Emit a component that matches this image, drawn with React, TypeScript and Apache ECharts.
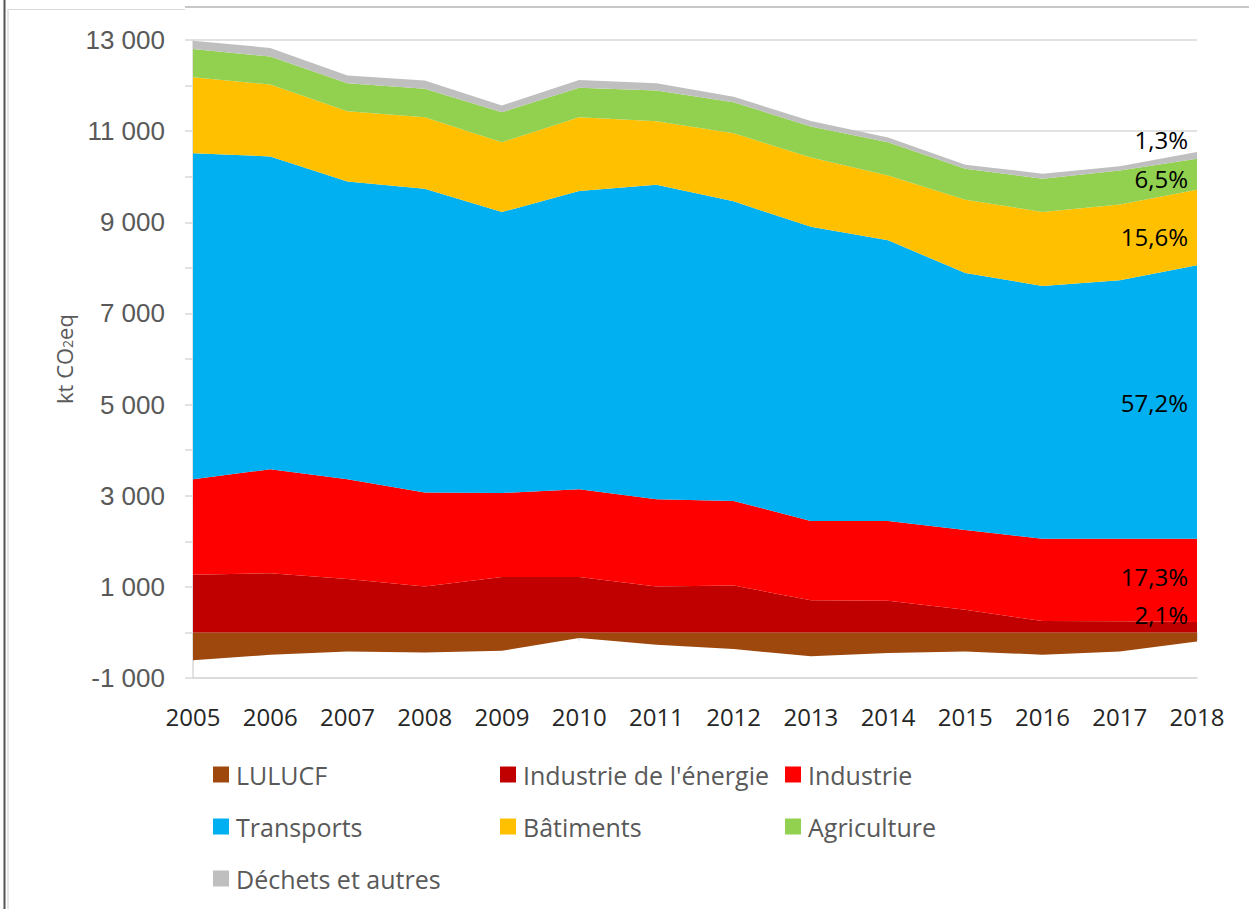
import React, { useEffect, useRef } from 'react';
import * as echarts from 'echarts';

const years = ['2005', '2006', '2007', '2008', '2009', '2010', '2011', '2012', '2013', '2014', '2015', '2016', '2017', '2018'];

const lulucf = [-613, -489, -416, -440, -401, -123, -270, -365, -525, -452, -416, -489, -416, -197];
const energie = [1264, 1301, 1170, 1008, 1214, 1214, 1008, 1030, 705, 695, 497, 250, 245, 230];
const industrie = [2097, 2279, 2191, 2060, 1846, 1928, 1915, 1856, 1742, 1752, 1753, 1803, 1808, 1823];
const transports = [7156, 6865, 6536, 6669, 6165, 6543, 6901, 6573, 6453, 6157, 5638, 5550, 5675, 6004];
const batiments = [1665, 1577, 1540, 1569, 1533, 1621, 1394, 1496, 1520, 1424, 1608, 1622, 1665, 1656];
const agriculture = [622, 614, 614, 622, 657, 644, 673, 680, 682, 730, 679, 731, 745, 681];
const dechets = [182, 190, 168, 181, 147, 174, 160, 120, 118, 105, 90, 110, 90, 146];

// shares in 2018 (labels shown at the right end), for series 1..6
const shares2018 = ['2,1%', '17,3%', '57,2%', '15,6%', '6,5%', '1,3%'];

const yLabelValues = [-1000, 1000, 3000, 5000, 7000, 9000, 11000, 13000];

const seriesDefs = [
  { name: 'LULUCF', data: lulucf, color: '#9E480E' },
  { name: "Industrie de l'énergie", data: energie, color: '#C00000' },
  { name: 'Industrie', data: industrie, color: '#FF0000' },
  { name: 'Transports', data: transports, color: '#00B0F0' },
  { name: 'Bâtiments', data: batiments, color: '#FFC000' },
  { name: 'Agriculture', data: agriculture, color: '#92D050' },
  { name: 'Déchets et autres', data: dechets, color: '#BFBFBF' },
];

const fmtThousands = (v: number) => {
  const s = Math.abs(v).toString().replace(/\B(?=(\d{3})+(?!\d))/g, ' ');
  return (v < 0 ? '-' : '') + s;
};

export default function App() {
  const ref = useRef<HTMLDivElement>(null);

  useEffect(() => {
    document.body.style.margin = '0';
    const chart = echarts.init(ref.current!, null, { renderer: 'svg' });
    const last = years.length - 1;
    const labelOffsets = [0, -13, -4, 0, 9, 4, -13];
    let cum = 0;
    const series: any[] = seriesDefs.map((s, i) => {
      const v = s.data[last];
      const base = v >= 0 ? cum : 0;
      if (v >= 0) cum += v;
      const item: any = {
        name: s.name,
        type: 'line',
        stack: 'total',
        data: s.data,
        symbol: 'none',
        showSymbol: false,
        lineStyle: { width: 0, color: s.color },
        areaStyle: { color: s.color, opacity: 1 },
        itemStyle: { color: s.color },
        emphasis: { disabled: true },
        silent: true,
      };
      if (i > 0) {
        const isTop = i === seriesDefs.length - 1;
        item.markPoint = {
          symbol: 'circle',
          symbolSize: 0,
          silent: true,
          itemStyle: { color: 'transparent' },
          label: {
            show: true,
            position: 'left',
            distance: 9,
            formatter: shares2018[i - 1],
            color: '#000',
            fontFamily: 'Open Sans',
            fontSize: 24,
            offset: [0, labelOffsets[i]],
          },
          data: [{ coord: [years[last], isTop ? base + v : base + v / 2] }],
        };
      }
      return item;
    });

    const legendPos = [
      { left: 213, top: 762 },
      { left: 500, top: 762 },
      { left: 785, top: 762 },
      { left: 213, top: 814 },
      { left: 500, top: 814 },
      { left: 785, top: 814 },
      { left: 213, top: 866 },
    ];
    const legends = seriesDefs.map((s, i) => ({
      data: [s.name],
      left: legendPos[i].left,
      top: legendPos[i].top,
      padding: 0,
      icon: 'rect',
      itemWidth: 16,
      itemHeight: 16,
      selectedMode: false,
      textStyle: { fontFamily: 'Open Sans', fontSize: 25, color: '#595959', padding: [0, 0, 0, 2] },
    }));

    chart.setOption({
      animation: false,
      backgroundColor: '#ffffff',
      grid: { left: 193, right: 52, top: 40, bottom: 231, containLabel: false },
      legend: legends,
      xAxis: [
        {
          type: 'category',
          data: years,
          boundaryGap: false,
          position: 'bottom',
          axisLine: { show: true, onZero: false, lineStyle: { color: '#d9d9d9', width: 1.5 } },
          axisTick: { show: false },
          axisLabel: { interval: 0, fontFamily: 'Open Sans', fontSize: 24, color: '#262626', margin: 26 },
          splitLine: { show: false },
        },
        {
          type: 'category',
          data: years,
          boundaryGap: false,
          position: 'bottom',
          axisLine: { show: true, onZero: true, lineStyle: { color: '#d9d9d9', width: 1.5 } },
          axisTick: { show: true, length: 8, interval: 0, lineStyle: { color: '#d9d9d9', width: 1.5 } },
          axisLabel: { show: false },
          splitLine: { show: false },
        },
      ],
      yAxis: [
        {
          type: 'value',
          min: -1000,
          max: 13000,
          interval: 1000,
          position: 'left',
          name: 'kt CO{sub|2}eq',
          nameLocation: 'middle',
          nameRotate: 90,
          nameGap: 118,
          nameTextStyle: {
            fontFamily: 'Open Sans',
            fontSize: 22,
            color: '#595959',
            rich: { sub: { fontFamily: 'Open Sans', fontSize: 14, color: '#595959', padding: [8, 0, 0, 0] } },
          },
          axisLine: { show: false },
          axisTick: { show: false, customValues: yLabelValues },
          axisLabel: {
            customValues: yLabelValues,
            formatter: (v: number) => fmtThousands(v),
            fontFamily: 'Liberation Sans',
            fontSize: 26,
            color: '#595959',
            margin: 28,
          },
          splitLine: { show: true, lineStyle: { color: '#d9d9d9', width: 1.5 } },
        },
        {
          type: 'value',
          min: -1000,
          max: 13000,
          interval: 1000,
          position: 'left',
          axisLine: { show: true, onZero: false, lineStyle: { color: '#d9d9d9', width: 1.5 } },
          axisTick: { show: true, length: 8, lineStyle: { color: '#d9d9d9', width: 1.5 } },
          axisLabel: { show: false },
          splitLine: { show: false },
        },
      ],
      graphic: [
        { type: 'line', shape: { x1: 4.5, y1: 0, x2: 4.5, y2: 909 }, style: { stroke: '#555', lineWidth: 2 } },
        { type: 'line', shape: { x1: 8, y1: 9, x2: 8, y2: 909 }, style: { stroke: '#d0d0d0', lineWidth: 1 } },
        { type: 'line', shape: { x1: 8, y1: 9.5, x2: 185, y2: 9.5 }, style: { stroke: '#d9d9d9', lineWidth: 1 } },
        { type: 'line', shape: { x1: 185, y1: 7, x2: 1249, y2: 7 }, style: { stroke: '#c8c8c8', lineWidth: 2 } },
      ],
      series,
    });

    return () => {
      chart.dispose();
    };
  }, []);

  return <div ref={ref} style={{ position: 'absolute', left: 0, top: 0, width: 1249, height: 909 }} />;
}
